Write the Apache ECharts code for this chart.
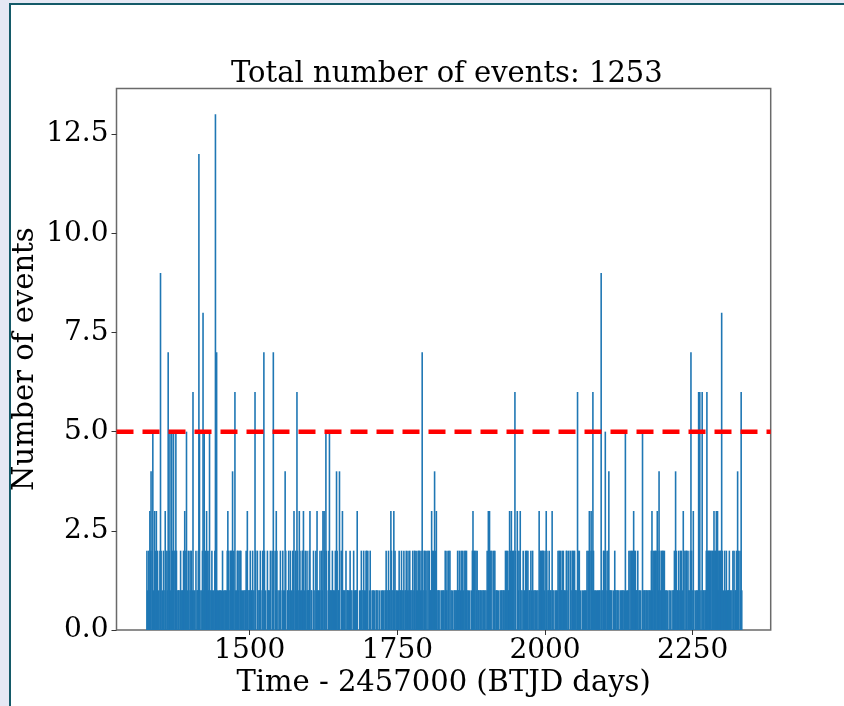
<!DOCTYPE html>
<html>
<head>
<meta charset="utf-8">
<title>Events per day</title>
<script src="https://cdn.jsdelivr.net/npm/echarts@6/dist/echarts.min.js"></script>
<style>
  html, body { margin: 0; padding: 0; width: 844px; height: 706px; overflow: hidden; background: #e6e8f4; }
  #frame { position: absolute; left: 9px; top: 3px; right: 0; bottom: 0; background: #ffffff;
           border-top: 2px solid #145a68; border-left: 2px solid #145a68; }
  #chart { position: absolute; left: 0; top: 0; width: 844px; height: 706px; }
</style>
</head>
<body>
<div id="frame"></div>
<div id="chart"></div>
<script>
// Daily event counts (one value per day, BTJD), grouped by the day each block starts on.
const counts1326 = [
  2,1,0,2,
  1,3,2,4,0,2,5,1,0,3,
  2,0,3,1,2,0,1,0,2,9,
  2,0,1,0,2,1,0,3,2,0,
  2,1,7,0,2,5,1,0,5,2,
  0,5,2,0,2,5,2,1,0,1,
  1,0,1,2,1,0,1,1,2,1,
  3,1,2,5,0,1,2,1,0,2
];
const counts1400 = [
  1,2,0,1,6,1,0,1,0,2,
  0,1,1,2,12,5,1,0,0,1,
  2,8,1,5,0,2,0,3,2,1,
  1,2,5,1,0,1,2,1,0,1,
  0,2,13,2,7,1,0,1,0,1,
  1,0,1,0,2,0,1,0,1,1,
  0,1,2,3,2,1,0,2,0,2,
  2,4,1,2,0,6,1,0,1,2,
  2,1,2,0,2,2,1,0,1,0,
  1,0,1,1,2,0,3,1,0,1
];
const counts1500 = [
  1,2,0,1,1,2,0,1,0,6,
  2,0,0,2,1,0,1,1,2,0,
  0,1,2,0,7,2,0,1,0,0,
  2,1,1,0,1,2,0,0,2,1,
  7,0,0,2,1,3,2,0,1,0,
  0,1,2,0,0,1,2,1,0,1,
  4,2,0,0,1,1,2,0,1,2,
  0,1,0,2,2,3,0,1,2,1,
  6,2,1,0,3,2,1,0,1,2,
  2,3,0,1,2,1,0,2,1,1
];
const counts1600 = [
  1,2,3,0,1,1,0,0,2,1,
  0,0,2,1,3,1,1,0,1,2,
  0,1,2,1,3,0,3,2,0,5,
  2,0,0,1,2,5,1,1,0,1,
  2,1,1,0,1,2,0,4,2,0,
  1,1,4,0,0,2,1,3,1,1,
  0,1,0,2,0,1,1,1,0,1,
  2,1,0,1,0,0,2,1,0,1,
  1,1,3,0,0,0,1,0,1,2,
  1,0,1,2,1,0,1,2,2,1
];
const counts1700 = [
  2,0,0,1,2,1,0,0,1,1,
  0,1,0,0,1,1,0,1,0,0,
  1,0,0,1,0,1,1,0,0,1,
  1,2,1,0,1,2,1,1,0,3,
  2,1,0,1,3,1,2,0,1,0,
  1,0,1,2,0,1,1,2,1,0,
  1,2,0,1,1,2,0,1,2,1,
  0,2,1,1,0,1,2,0,1,2,
  2,0,1,2,1,0,2,2,0,1,
  2,1,7,2,0,1,2,2,1,0
];
const counts1800 = [
  2,0,2,0,2,1,1,1,3,2,
  0,2,0,4,2,1,3,1,0,1,
  1,0,1,0,0,1,1,0,1,1,
  0,2,1,1,2,0,1,2,0,2,
  0,1,0,1,0,0,1,1,0,1,
  1,0,2,1,1,2,0,1,2,1,
  2,0,1,2,0,2,0,2,1,0,
  1,0,1,0,0,1,0,2,3,2,
  1,2,0,2,1,2,0,1,1,0,
  1,1,0,1,0,1,1,0,1,0
];
const counts1900 = [
  1,0,2,1,3,2,3,0,2,0,
  2,0,0,2,1,2,0,1,1,1,
  0,1,0,0,1,0,1,1,0,1,
  1,0,1,2,0,2,0,2,1,1,
  3,1,2,3,0,2,0,2,0,6,
  2,0,0,3,2,1,2,0,3,1,
  0,1,0,2,1,1,0,2,1,2,
  1,2,0,1,1,0,2,1,0,2,
  0,1,0,1,1,0,1,0,1,0,
  3,1,2,0,2,1,2,2,0,1
];
const counts2000 = [
  2,0,3,2,0,1,1,2,0,1,
  1,0,3,1,0,1,0,0,1,1,
  0,1,2,0,2,0,2,1,1,2,
  0,2,1,1,0,1,2,2,0,1,
  2,0,0,2,1,0,2,1,2,0,
  2,1,1,0,1,6,2,1,2,0,
  1,0,0,1,0,1,0,1,1,0,
  1,2,0,2,1,3,2,0,3,2,
  1,6,2,0,1,1,0,1,0,1,
  1,0,1,1,0,9,1,0,1,2
];
const counts2100 = [
  2,1,5,1,0,2,1,2,4,1,
  1,1,0,1,0,0,1,0,2,1,
  1,0,1,1,0,1,0,0,1,1,
  0,1,1,0,1,0,5,0,1,0,
  1,1,2,0,2,0,2,0,2,1,
  3,2,0,2,1,1,1,2,0,1,
  1,0,1,0,0,5,1,0,1,1,
  0,1,1,0,1,0,1,1,0,1,
  2,3,1,2,0,2,1,2,2,0,
  3,2,1,4,2,0,1,2,1,2
];
const counts2200 = [
  2,0,2,0,1,1,0,1,0,0,
  1,0,1,0,0,1,0,1,1,2,
  1,4,2,0,1,1,2,1,0,2,
  1,2,0,1,3,2,0,2,0,2,
  2,0,2,1,1,0,2,7,2,1,
  0,3,1,0,0,1,0,1,1,0,
  6,1,6,0,1,0,6,0,1,1,
  0,1,1,2,6,2,0,2,2,1,
  2,2,0,2,1,2,3,2,0,2,
  3,2,3,2,1,2,0,2,2,8
];
const counts2300 = [
  2,0,1,0,2,1,0,2,0,1,
  1,1,2,0,1,1,0,0,2,1,
  2,0,1,1,2,0,4,2,0,0,
  2,1,6,1
];

const blockStarts = [1326, 1400, 1500, 1600, 1700, 1800, 1900, 2000, 2100, 2200, 2300];
const blockCounts = [counts1326, counts1400, counts1500, counts1600, counts1700, counts1800,
                     counts1900, counts2000, counts2100, counts2200, counts2300];

const xTicks = [1500, 1750, 2000, 2250];
const yTicks = [0, 2.5, 5, 7.5, 10, 12.5];
const threshold = 5;

// Axis extents
const X_MIN = 1274.5, X_MAX = 2382;
const Y_MIN = 0, Y_MAX = 13.65;

// [day, count] pairs for the histogram
const events = [];
blockStarts.forEach(function (start, b) {
  blockCounts[b].forEach(function (n, i) { events.push([start + i, n]); });
});
const total = events.reduce(function (s, d) { return s + d[1]; }, 0);

const FONT = 'DejaVu Serif';
const BAR_COLOR = '#1f77b4';
const BAR_MIN_PX = 1.6;

const chart = echarts.init(document.getElementById('chart'), null, { renderer: 'canvas' });

chart.setOption({
  animation: false,
  backgroundColor: 'transparent',
  textStyle: { fontFamily: FONT, color: '#000' },
  title: {
    text: 'Total number of events: ' + total,
    left: 226,
    top: 55,
    textStyle: { fontFamily: FONT, fontSize: 29, fontWeight: 'normal', color: '#000' }
  },
  grid: {
    left: 116.5, top: 88.5, width: 654.2, height: 541.5,
    show: true, borderColor: '#6a6a6a', borderWidth: 1.5, backgroundColor: 'transparent',
    containLabel: false, outerBoundsMode: 'none'
  },
  xAxis: {
    type: 'value', min: X_MIN, max: X_MAX,
    axisLine: { show: false, onZero: false },
    axisTick: { show: true, customValues: xTicks, length: 5, lineStyle: { color: '#333', width: 1 } },
    axisLabel: {
      customValues: xTicks, margin: 7, fontFamily: FONT, fontSize: 28, color: '#000',
      formatter: function (v) { return String(v); }
    },
    splitLine: { show: false },
    name: 'Time - 2457000 (BTJD days)', nameLocation: 'middle', nameGap: 39, nameMoveOverlap: false,
    nameTextStyle: { fontFamily: FONT, fontSize: 29, color: '#000' }
  },
  yAxis: {
    type: 'value', min: Y_MIN, max: Y_MAX,
    axisLine: { show: false },
    axisTick: { show: true, customValues: yTicks, length: 5, lineStyle: { color: '#333', width: 1 } },
    axisLabel: {
      customValues: yTicks, margin: 8, fontFamily: FONT, fontSize: 28, color: '#000',
      formatter: function (v) { return v.toFixed(1); }
    },
    splitLine: { show: false },
    name: 'Number of events', nameLocation: 'middle', nameRotate: 90, nameGap: 77, nameMoveOverlap: false,
    nameTextStyle: { fontFamily: FONT, fontSize: 29, color: '#000' }
  },
  series: [
    {
      type: 'custom',
      name: 'events',
      encode: { x: 0, y: 1 },
      data: events,
      renderItem: function (params, api) {
        const n = api.value(1);
        if (!n) return null;
        const day = api.value(0);
        const top = api.coord([day, n]);
        const base = api.coord([day, 0]);
        const w = Math.max(api.size([1, 0])[0], BAR_MIN_PX);
        return {
          type: 'rect',
          shape: { x: top[0] - w / 2, y: top[1], width: w, height: base[1] - top[1] },
          style: { fill: BAR_COLOR }
        };
      },
      z: 2
    },
    {
      type: 'line',
      name: 'threshold',
      data: [[X_MIN, threshold], [X_MAX, threshold]],
      symbol: 'none',
      silent: true,
      lineStyle: { color: '#ff0000', width: 4.5, type: [17, 9] },
      z: 5
    }
  ]
});
</script>
</body>
</html>
